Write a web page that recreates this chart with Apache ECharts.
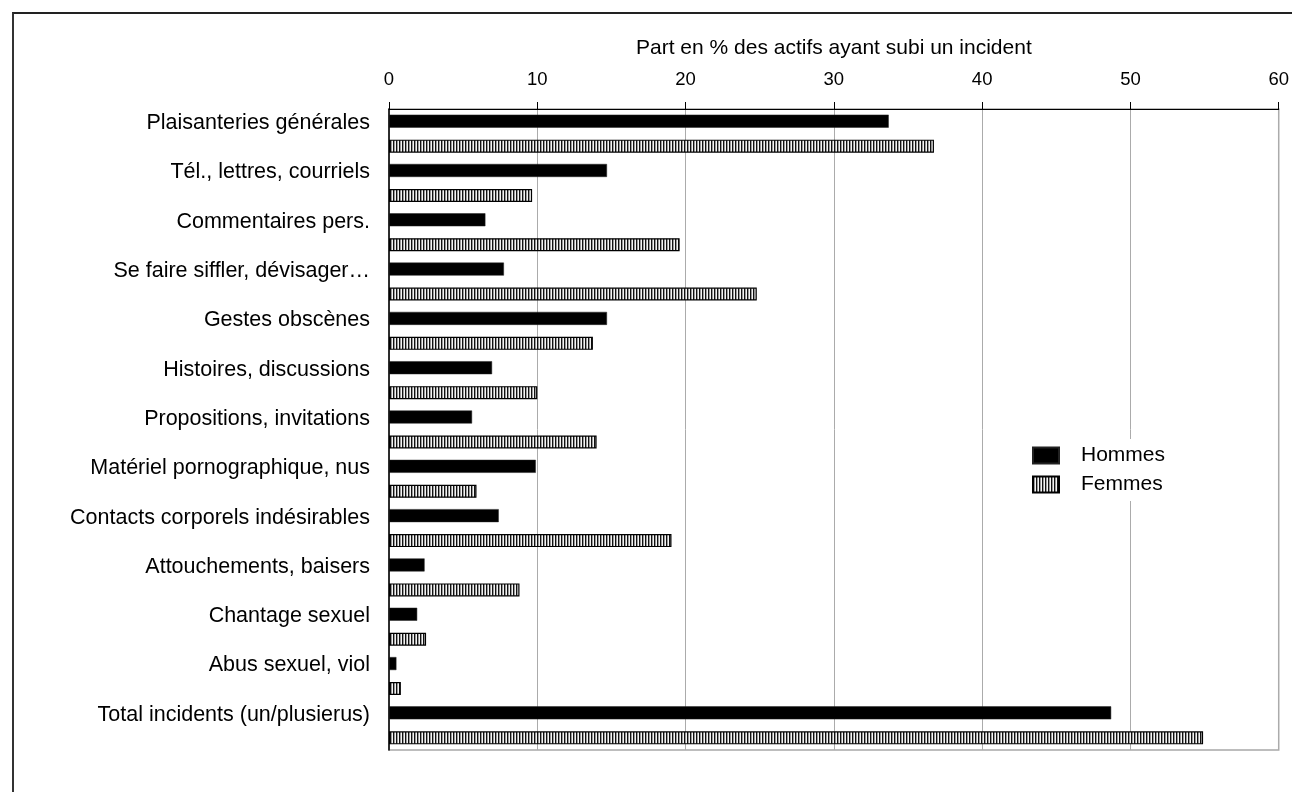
<!DOCTYPE html>
<html>
<head>
<meta charset="utf-8">
<script src="https://cdn.jsdelivr.net/npm/echarts@6/dist/echarts.min.js"></script>
<style>
html,body{margin:0;padding:0;background:#fff;}
#frame{position:absolute;left:12px;top:12px;width:1400px;height:900px;border-left:2px solid #333;border-top:2px solid #222;}
#chart{position:absolute;left:0;top:0;width:1292px;height:792px;}
</style>
</head>
<body>
<div id="frame"></div>
<div id="chart"></div>
<script>
const categories = [
  'Plaisanteries générales',
  'Tél., lettres, courriels',
  'Commentaires pers.',
  'Se faire siffler, dévisager…',
  'Gestes obscènes',
  'Histoires, discussions',
  'Propositions, invitations',
  'Matériel pornographique, nus',
  'Contacts corporels indésirables',
  'Attouchements, baisers',
  'Chantage sexuel',
  'Abus sexuel, viol',
  'Total incidents (un/plusierus)'
];
const hommes = [33.7, 14.7, 6.5, 7.75, 14.7, 6.95, 5.6, 9.9, 7.4, 2.4, 1.9, 0.5, 48.7];
const femmes = [36.75, 9.65, 19.6, 24.8, 13.75, 10.0, 14.0, 5.9, 19.05, 8.8, 2.5, 0.8, 54.9];
const xTicks = {min: 0, max: 60, interval: 10};
const axisTitle = 'Part en % des actifs ayant subi un incident';

// vertical stripe pattern
const pc = document.createElement('canvas');
pc.width = 3; pc.height = 4;
const pctx = pc.getContext('2d');
pctx.fillStyle = '#111'; pctx.fillRect(0,0,1,4);
pctx.fillStyle = '#9a9a9a'; pctx.fillRect(1,0,1,4);
pctx.fillStyle = '#f4f4f4'; pctx.fillRect(2,0,1,4);
const stripe = {image: pc, repeat: 'repeat'};

const FONT = 'Liberation Sans, Arial, sans-serif';
const chart = echarts.init(document.getElementById('chart'), null, {renderer: 'canvas'});
chart.setOption({
  backgroundColor: 'transparent',
  animation: false,
  grid: {left: 389, right: 12, top: 109, bottom: 42, show: true, borderColor: '#a8a8a8', borderWidth: 1.5},
  legend: {
    orient: 'vertical', left: 1022, top: 439,
    padding: [6, 10, 6, 10], backgroundColor: '#fff',
    itemWidth: 26, itemHeight: 16, itemGap: 8, icon: 'rect',
    textStyle: {fontFamily: FONT, fontSize: 21, color: '#000', padding: [0, 0, 0, 17]},
    data: ['Hommes', 'Femmes']
  },
  xAxis: {
    type: 'value', position: 'top',
    min: xTicks.min, max: xTicks.max, interval: xTicks.interval,
    name: axisTitle, nameLocation: 'middle', nameGap: 50,
    nameTextStyle: {fontFamily: FONT, fontSize: 21, color: '#000'},
    axisLine: {show: true, lineStyle: {color: '#000', width: 1}},
    axisTick: {show: true, length: 7, lineStyle: {color: '#000'}},
    axisLabel: {fontFamily: FONT, fontSize: 18.5, color: '#000', margin: 20},
    splitLine: {show: true, lineStyle: {color: '#ababab', width: 1}}
  },
  yAxis: {
    type: 'category', inverse: true, data: categories,
    axisLine: {show: true, lineStyle: {color: '#000', width: 1.5}},
    axisTick: {show: false},
    axisLabel: {interval: 0, fontFamily: FONT, fontSize: 21.5, color: '#000', margin: 19, lineHeight: 21,
      formatter: function (v) { return v + '\n '; }},
    splitLine: {show: false}
  },
  series: [
    {name: 'Hommes', type: 'bar', data: hommes, barWidth: 13, barGap: '92%',
     itemStyle: {color: '#000', borderColor: '#222', borderWidth: 0.5}},
    {name: 'Femmes', type: 'bar', data: femmes, barWidth: 13,
     itemStyle: {color: stripe, borderColor: '#000', borderWidth: 1.2}}
  ]
});
</script>
</body>
</html>
